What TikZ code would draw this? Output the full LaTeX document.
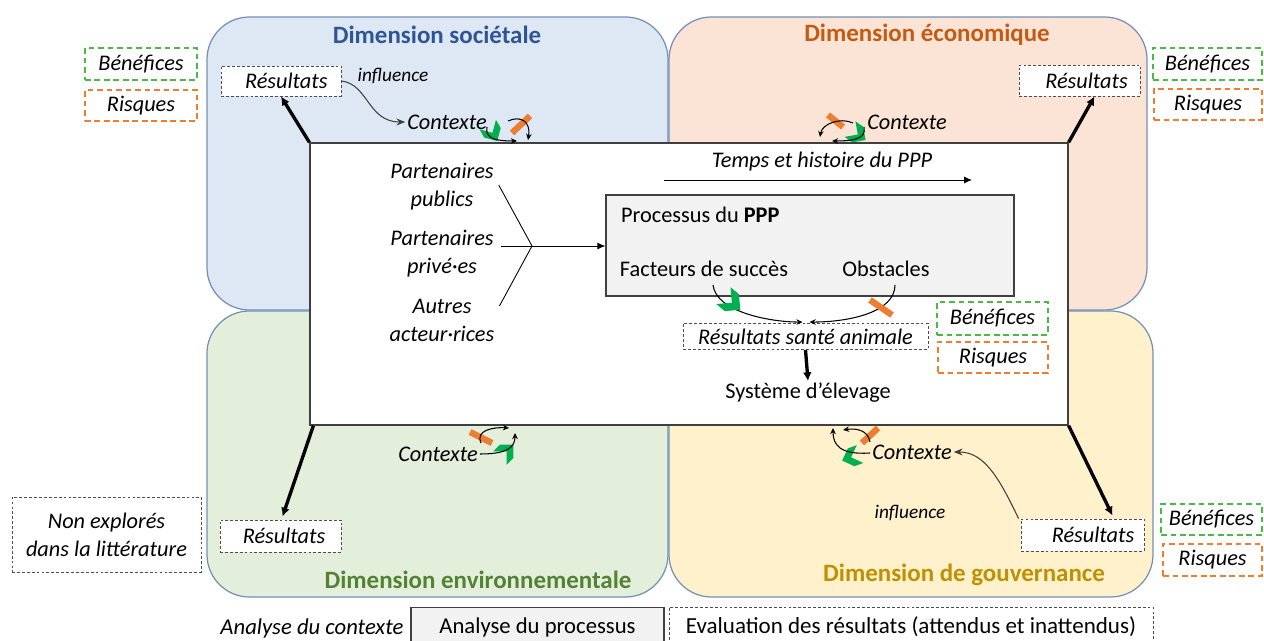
\documentclass[tikz,border=0pt]{standalone}
\usepackage{fontspec}
\setmainfont{Carlito}
\usetikzlibrary{arrows.meta,calc}

\definecolor{pblue}{HTML}{DEE8F5}
\definecolor{ppeach}{HTML}{FBE4D6}
\definecolor{pgreen}{HTML}{E3EFDA}
\definecolor{pyellow}{HTML}{FFF1CC}
\definecolor{pborder}{HTML}{7391B6}
\definecolor{tblue}{HTML}{2F5597}
\definecolor{torange}{HTML}{C55A11}
\definecolor{tgreen}{HTML}{548235}
\definecolor{tgold}{HTML}{BF9000}
\definecolor{dgreen}{HTML}{4CB848}
\definecolor{dorange}{HTML}{ED7D31}
\definecolor{chevgreen}{HTML}{00B050}
\definecolor{boxgray}{HTML}{F2F2F2}

\tikzset{
  panel/.style={draw=pborder, line width=0.7pt, rounded corners=0.85cm},
  corebox/.style={draw=black!75, fill=white, line width=0.8pt, inner sep=0pt},
  procbox/.style={draw=black!75, fill=boxgray, line width=0.8pt, inner sep=1pt},
  resbox/.style={draw=black!70, fill=white, line width=0.5pt, dash pattern=on 1.6pt off 1.2pt,
    font=\fontsize{12.7}{15.5}\selectfont\itshape, inner sep=1pt},
  benbox/.style={draw=dgreen, fill=white, line width=0.8pt, dash pattern=on 3.2pt off 2.2pt,
    font=\fontsize{12.7}{15.5}\selectfont\itshape, inner sep=1pt},
  riskbox/.style={draw=dorange, fill=white, line width=0.8pt, dash pattern=on 3.2pt off 2.2pt,
    font=\fontsize{12.7}{15.5}\selectfont\itshape, inner sep=1pt},
  dimtitle/.style={font=\fontsize{14.2}{17}\selectfont\bfseries, inner sep=1pt},
  ctx/.style={font=\fontsize{12.7}{15.5}\selectfont\itshape, inner sep=1pt},
  infltext/.style={font=\fontsize{11}{13}\selectfont\itshape, inner sep=1pt},
  partner/.style={font=\fontsize{12.7}{15.9}\selectfont\itshape, align=center, inner sep=1pt},
  thickarr/.style={line width=1.9pt, -{Latex[length=5pt,width=5pt]}},
  thinarr/.style={line width=0.5pt, -{Latex[length=4.5pt,width=4pt]}},
  infl/.style={line width=0.6pt, draw=black!75, -{Stealth[length=5pt,width=4pt]}},
  sarr/.style={line width=0.6pt, -{Stealth[length=3.5pt,width=3.2pt]}},
  obar/.style={line width=3.6pt, draw=dorange},
  chev/.pic={\fill[chevgreen] (-9,-10) -- (1,-10) -- (11,0) -- (1,10) -- (-9,10) -- (1,0) -- cycle;}
}

\begin{document}
\begin{tikzpicture}[x=0.02cm, y=-0.02cm, font=\fontsize{12.7}{15.5}\selectfont]
\useasboundingbox (0,0) rectangle (1264,641);

% four dimension panels
\path[panel, fill=pblue] (207,17) rectangle (668,310);
\path[panel, fill=ppeach] (669,17) rectangle (1147,310);
\path[panel, fill=pgreen] (207,311) rectangle (668,597);
\path[panel, fill=pyellow] (669,311) rectangle (1153,597);

% panel titles
\node[dimtitle, text=tblue] (t1) at (437,35) {Dimension sociétale};
\node[dimtitle, text=torange] (t2) at (927,35) {Dimension économique};
\node[dimtitle, text=tgreen] (t3) at (478,580) {Dimension environnementale};
\node[dimtitle, text=tgold] (t4) at (964,575) {Dimension de gouvernance};

% central frame
\node[corebox, minimum width=15.16cm, minimum height=5.64cm] (core) at (689,284) {};

% outcome boxes of each dimension
\node[resbox, minimum width=2.4cm, minimum height=0.6cm] (r1) at (281,81) {\hspace{6pt}Résultats};
\node[resbox, minimum width=2.42cm, minimum height=0.62cm] (r2) at (1079.5,80.5) {\hspace{8pt}Résultats};
\node[resbox, minimum width=2.42cm, minimum height=0.64cm] (r3) at (280.5,536) {\hspace{4pt}Résultats};
\node[resbox, minimum width=2.46cm, minimum height=0.64cm] (r4) at (1082.5,535) {\hspace{12pt}Résultats};

\draw[thickarr] (core.north west) -- (r1.south);
\draw[thickarr] (core.north east) -- ($(r2.south)+(15,0)$);
\draw[thickarr] ($(core.south west)+(4,0)$) -- ($(r3.north)+(2,-3)$);
\draw[thickarr] (core.south east) -- ($(r4.north)+(30,-3)$);

% benefits and risks
\node[benbox, minimum width=2.24cm, minimum height=0.64cm] (b1) at (141,64) {Bénéfices};
\node[riskbox, minimum width=2.24cm, minimum height=0.62cm] (k1) at (141,105.5) {Risques};
\node[benbox, minimum width=2.18cm, minimum height=0.64cm] (b2) at (1207.5,64) {Bénéfices};
\node[riskbox, minimum width=2.16cm, minimum height=0.62cm] (k2) at (1208,104.5) {Risques};
\node[benbox, minimum width=2.22cm, minimum height=0.66cm] (b3) at (992.5,318.5) {Bénéfices};
\node[riskbox, minimum width=2.2cm, minimum height=0.62cm] (k3) at (993,357.5) {Risques};
\node[benbox, minimum width=2.02cm, minimum height=0.62cm] (b4) at (1211.5,519.5) {Bénéfices};
\node[riskbox, minimum width=1.98cm, minimum height=0.64cm] (k4) at (1212.5,560) {Risques};

\node[resbox, minimum width=3.78cm, minimum height=1.5cm, align=center,
  font=\fontsize{12.7}{15.9}\selectfont\itshape] (ne) at (106.5,534.5) {Non explorés\\dans la littérature};

% context labels and influence
\node[ctx] (c1) at (447,122) {Contexte};
\node[ctx] (c2) at (907,122) {Contexte};
\node[ctx] (c3) at (438,454) {Contexte};
\node[ctx] (c4) at (912,452) {Contexte};

\node[infltext] (i1) at (393,76) {influence};
\node[infltext] (i4) at (910,513) {influence};
\draw[infl] (r1.east) .. controls (368,84) and (368,122) .. (c1.west);
\draw[infl] ($(r4.north west)+(-2,0)$) .. controls (1000,480) and (985,452) .. (c4.east);

% context icons: success chevron, obstacle bar, small arrows
\pic[rotate=-60, scale=0.95] at (492,132) {chev};
\draw[obar] (512,133) -- (530,116);
\draw[sarr] (487,127) .. controls (484,140) and (500,141) .. (517,141);
\draw[sarr] (508,121) .. controls (521,115) and (531,122) .. (528,140);

\pic[rotate=-35, scale=0.95] at (857,134) {chev};
\draw[obar] (828,115) -- (843,127);
\draw[sarr] (853,123) .. controls (840,117) and (822,124) .. (820,137);
\draw[sarr] (864,127) .. controls (867,140) and (850,141) .. (832,141);

\pic[rotate=45, scale=0.95] at (506,452) {chev};
\draw[obar] (470,432) -- (492,443);
\draw[sarr] (480,454) .. controls (506,454) and (515,448) .. (515,433);
\draw[sarr] (481,443) .. controls (475,430) and (494,427) .. (509,428);

\pic[rotate=200, scale=0.95] at (852,457) {chev};
\draw[obar] (862,443) -- (878,428);
\draw[sarr] (870,453) .. controls (840,455) and (833,445) .. (833,428);
\draw[sarr] (870,442) .. controls (868,430) and (856,428) .. (843,430);

% time line
\node[ctx] (tmp) at (822,162) {Temps et histoire du PPP};
\coordinate (tA) at (664,180);
\coordinate (tB) at (972,180);
\draw[thinarr] (tA) -- (tB);

% partners
\node[partner] (pub) at (442,187) {Partenaires\\publics};
\node[partner] (priv) at (442,254) {Partenaires\\privé·es};
\node[partner] (aut) at (442,320) {Autres\\acteur·rices};
\coordinate (fork) at (532,246);

% PPP process
\node[procbox, minimum width=8.16cm, minimum height=2.02cm] (proc) at (810,245.5) {};
\node[inner sep=1pt, anchor=west] (ptitle) at (619,215) {Processus du \textbf{PPP}};
\node[inner sep=1pt] (fact) at (704,269) {Facteurs de succès};
\node[inner sep=1pt] (obst) at (886,269) {Obstacles};

\draw[line width=0.5pt] ($(pub.east)+(3,-2)$) -- (fork);
\draw[line width=0.5pt] ($(priv.east)+(5,-8)$) -- (fork);
\draw[line width=0.5pt] ($(aut.east)+(3,-14)$) -- (fork);
\draw[thinarr] (fork) -- (proc.west |- fork);

% animal health outcomes
\node[resbox, minimum width=4.9cm, minimum height=0.52cm] (rsa) at (805.5,336.5) {Résultats santé animale};
\node[inner sep=1pt] (sys) at (808,393) {Système d’élevage};

\draw[sarr] ($(fact.south)+(9,6)$) .. controls (716,312) and (770,322) .. ($(rsa.north)+(-3,-1)$);
\draw[sarr] ($(obst.south)+(9,6)$) .. controls (895,312) and (850,322) .. ($(rsa.north)+(4,-1)$);
\pic[rotate=-40, scale=1.1] at (731,302) {chev};
\draw[obar] (870,300) -- (892,315);
\draw[thickarr] (rsa.south) -- (sys.north);

% legend
\node[inner sep=1pt, font=\fontsize{12.9}{15.5}\selectfont\itshape] (lg1) at (312,628) {Analyse du contexte};
\node[procbox, font=\fontsize{12.9}{15.5}\selectfont, minimum width=5.06cm, minimum height=0.78cm] (lg2) at (537.5,627) {Analyse du processus};
\node[resbox, font=\fontsize{13.1}{15.5}\selectfont, minimum width=9.68cm, minimum height=0.8cm] (lg3) at (911,627) {Evaluation des résultats (attendus et inattendus)\hspace{8pt}};
\end{tikzpicture}
\end{document}
